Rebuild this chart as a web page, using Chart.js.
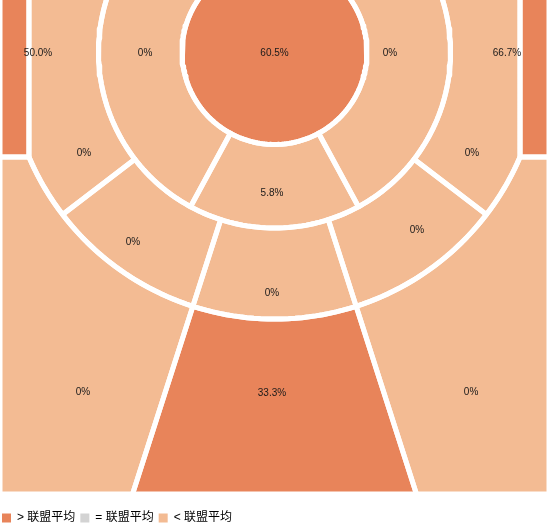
<!DOCTYPE html>
<html>
<head>
<meta charset="utf-8">
<script src="https://cdn.jsdelivr.net/npm/chart.js@4.4.1/dist/chart.umd.min.js"></script>
<style>
  html, body { margin: 0; padding: 0; overflow: hidden; background: #fff; }
  #wrap { position: absolute; left: -3px; top: 0; width: 552px; height: 534px; }
</style>
</head>
<body>
<div id="wrap"><canvas id="shotChart"></canvas></div>
<script>
// zone data, same order everywhere below
const zoneNames = ['篮下', '左侧油漆区', '罚球线附近', '右侧油漆区',
    '左侧底线中投', '左侧45度中投', '正面中投', '右侧45度中投', '右侧底线中投',
    '左侧底角三分', '右侧底角三分', '左侧45度三分', '正面三分', '右侧45度三分'];
const fgPct = [60.5, 0, 5.8, 0, 0, 0, 0, 0, 0, 50.0, 66.7, 0, 33.3, 0];
const vsLeague = ['>', '<', '<', '<', '<', '<', '<', '<', '<', '>', '>', '<', '>', '<'];
const legendKeys = ['>', '=', '<'];
const legendLabels = ['> 联盟平均', '= 联盟平均', '< 联盟平均'];

const colorFor = { '>': '#E8845A', '=': '#D3D3D3', '<': '#F3BB93' };

// court geometry in feet, basket at the top, y grows toward half court
const COURT_HALF = 25, COURT_DEPTH = 45;
const BASKET_Y = 4.74;
const R_PAINT = 8.42, R_MID = 16.03, R_THREE = 24.32;
const CORNER_Y = 14.3;
const CORNER_X = Math.sqrt(R_THREE * R_THREE - (CORNER_Y - BASKET_Y) ** 2);
const A_MID = 28.5, A_CENTER = 17.8, A_WING = 52.5;
const A_JUNC = Math.asin(CORNER_X / R_THREE) * 180 / Math.PI;
const TOP = -1;
const FT = 549 / 50;   // px per foot in the view

// where the percentages sit (feet)
const labelSpots = [
    [0, 4.85], [-11.79, 4.85], [-0.23, 17.6], [10.52, 4.85],
    [-17.35, 13.95], [-12.89, 22.05], [-0.23, 26.7], [12.98, 20.95], [17.99, 13.95],
    [-21.54, 4.85], [21.17, 4.85], [-17.44, 35.7], [-0.23, 35.8], [17.9, 35.7]
];

function polar(r, deg) {
    const a = deg * Math.PI / 180;
    return { x: r * Math.sin(a), y: BASKET_Y + r * Math.cos(a) };
}

function arc(r, from, to) {
    const n = Math.max(2, Math.ceil(Math.abs(to - from) / 1.5));
    const pts = [];
    for (let i = 0; i <= n; i++) pts.push(polar(r, from + (to - from) * i / n));
    return pts;
}

function ring(r0, r1, a0, a1) {
    return arc(r1, a0, a1).concat(arc(r0, a1, a0));
}

function buildShapes() {
    const bottomX = (COURT_DEPTH - BASKET_Y) * Math.tan(A_CENTER * Math.PI / 180);
    const side = s => ({
        paint: ring(R_PAINT, R_MID, s * A_MID, s * 180),
        base: arc(R_THREE, s * A_WING, s * A_JUNC)
            .concat([{ x: s * CORNER_X, y: TOP - 12 }], arc(R_MID, s * 180, s * A_WING)),
        wing: ring(R_MID, R_THREE, s * A_CENTER, s * A_WING),
        corner: [{ x: s * COURT_HALF, y: TOP }, { x: s * CORNER_X, y: TOP },
            { x: s * CORNER_X, y: CORNER_Y }, { x: s * COURT_HALF, y: CORNER_Y }],
        wing3: [{ x: s * COURT_HALF, y: CORNER_Y }, { x: s * CORNER_X, y: CORNER_Y }]
            .concat(arc(R_THREE, s * A_JUNC, s * A_CENTER),
                [{ x: s * bottomX, y: COURT_DEPTH }, { x: s * COURT_HALF, y: COURT_DEPTH }])
    });
    const L = side(-1), R = side(1);
    const list = [
        arc(R_PAINT, -180, 180),
        L.paint,
        ring(R_PAINT, R_MID, -A_MID, A_MID),
        R.paint,
        L.base,
        L.wing,
        ring(R_MID, R_THREE, -A_CENTER, A_CENTER),
        R.wing,
        R.base,
        L.corner,
        R.corner,
        L.wing3,
        arc(R_THREE, -A_CENTER, A_CENTER).concat([{ x: bottomX, y: COURT_DEPTH }, { x: -bottomX, y: COURT_DEPTH }]),
        R.wing3
    ];
    return list.map(pts => pts.concat([pts[0]]));
}

const zoneShapes = buildShapes();

function fmt(v) {
    return v === 0 ? '0%' : v.toFixed(1) + '%';
}

const zoneLabels = {
    id: 'zoneLabels',
    afterDatasetsDraw(chart) {
        const { ctx, scales: { x, y } } = chart;
        ctx.save();
        ctx.font = '10px "Liberation Sans", Arial, sans-serif';
        ctx.fillStyle = '#1a1a1a';
        ctx.textAlign = 'center';
        ctx.textBaseline = 'middle';
        fgPct.forEach((v, i) => {
            const p = labelSpots[i];
            ctx.fillText(fmt(v), x.getPixelForValue(p[0]), y.getPixelForValue(p[1]));
        });
        ctx.restore();
    }
};

const ctx = document.getElementById('shotChart').getContext('2d');
const shotChart = new Chart(ctx, {
    type: 'line',
    data: {
        datasets: zoneNames.map((name, i) => ({
            label: name,
            data: zoneShapes[i],
            backgroundColor: colorFor[vsLeague[i]],
            borderColor: '#ffffff',
            borderWidth: 5,
            borderJoinStyle: 'round',
            fill: 'shape',
            pointRadius: 0,
            tension: 0
        }))
    },
    options: {
        indexAxis: 'y',
        responsive: true,
        maintainAspectRatio: false,
        animation: false,
        events: [],
        layout: { padding: 0 },
        scales: {
            // the canvas starts 3px left of the window, so the view starts 3px before the court
            x: { type: 'linear', min: -COURT_HALF - 3 / FT, max: COURT_HALF, display: false },
            y: { type: 'linear', min: 0, max: 507 / FT, reverse: true, display: false }
        },
        plugins: {
            filler: { propagate: false, drawTime: 'beforeDatasetsDraw' },
            tooltip: { enabled: false },
            legend: {
                position: 'bottom',
                align: 'start',
                labels: {
                    boxWidth: 9,
                    boxHeight: 9,
                    padding: 5,
                    color: '#333',
                    font: { size: 12, family: '"Liberation Sans", "Noto Sans CJK SC", sans-serif' },
                    generateLabels: () => legendLabels.map((text, i) => ({
                        text: text,
                        fillStyle: colorFor[legendKeys[i]],
                        strokeStyle: colorFor[legendKeys[i]],
                        lineWidth: 0,
                        hidden: false
                    }))
                }
            }
        }
    },
    plugins: [zoneLabels]
});
</script>
</body>
</html>
